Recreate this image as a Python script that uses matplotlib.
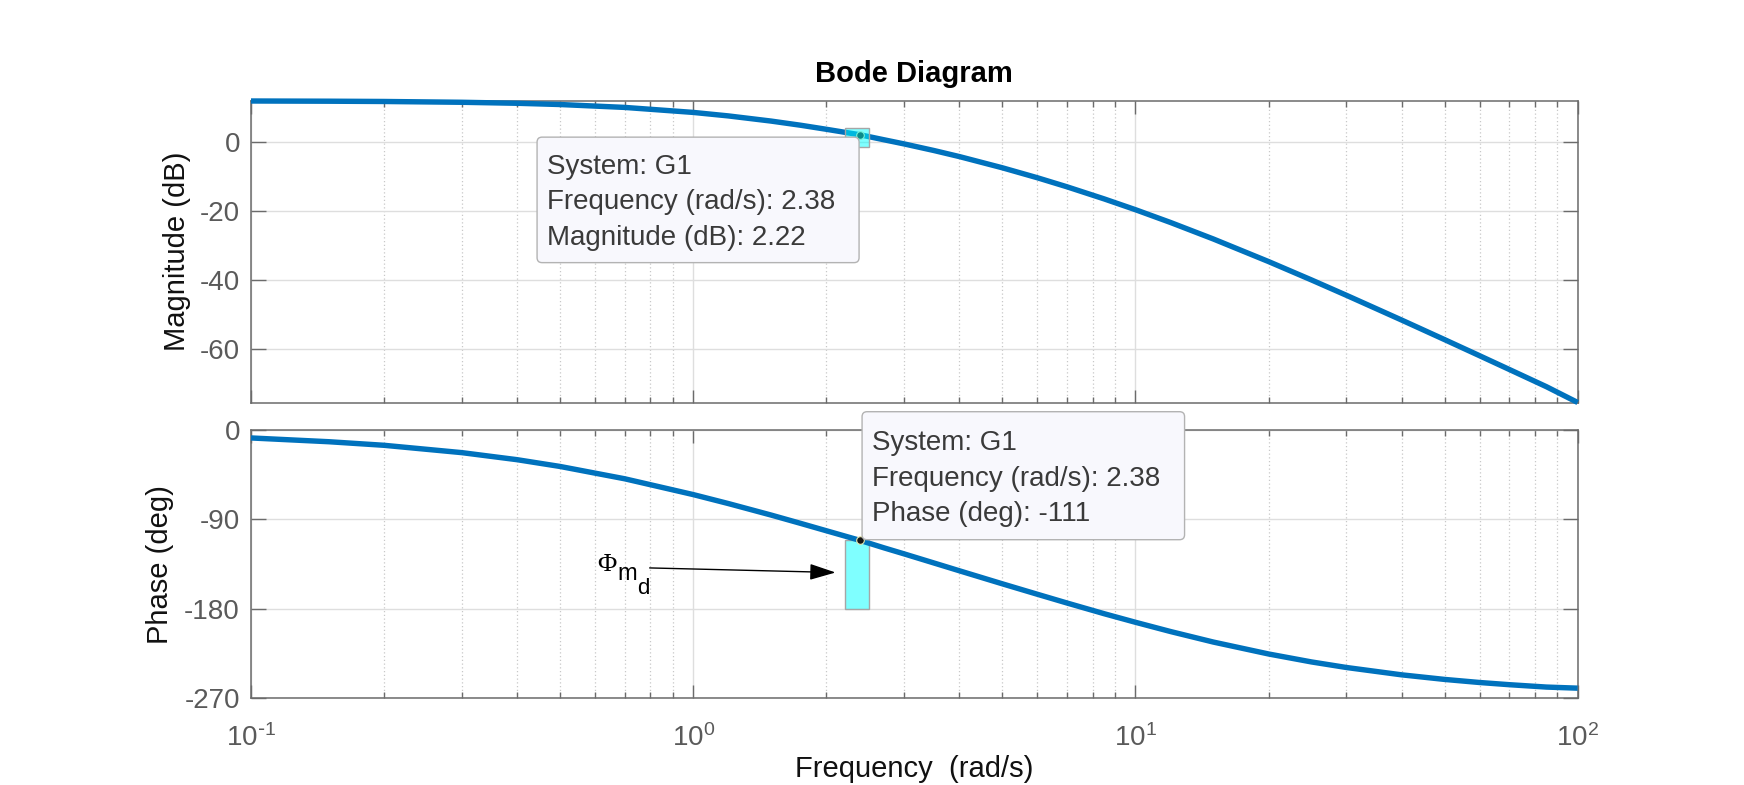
import numpy as np
import matplotlib
matplotlib.use("Agg")
import matplotlib.pyplot as plt
from matplotlib.patches import Rectangle, FancyBboxPatch
from matplotlib.ticker import FixedLocator, LogLocator, NullFormatter, FixedFormatter
from matplotlib.transforms import Affine2D

# ---------------- data ----------------
freq = [0.1, 0.15, 0.2, 0.3, 0.4, 0.5, 0.7, 1.0, 1.2, 1.5, 1.75, 2.0, 2.38, 2.7,
        3.0, 3.5, 4.0, 5.0, 6.0, 7.0, 8.5, 10, 12, 15, 20, 25, 30, 40, 50, 60,
        70, 85, 100]
mag_db = [12.0, 11.94, 11.86, 11.63, 11.34, 10.98, 10.14, 8.69, 7.68, 6.18, 4.97,
          3.80, 2.22, 0.76, -0.45, -2.35, -4.12, -7.36, -10.25, -12.87, -16.39,
          -19.51, -23.21, -28.0, -34.55, -39.87, -44.33, -51.51, -57.17, -61.84,
          -65.81, -70.83, -75.4]
phase_deg = [-8.0, -11.8, -15.4, -22.8, -29.9, -36.7, -49.1, -65.0, -74.0, -85.6,
             -94.0, -101.4, -111.0, -118.6, -124.7, -133.8, -141.7, -154.8, -165.3,
             -174.1, -184.9, -193.5, -202.8, -213.4, -225.4, -233.4, -239.0, -246.4,
             -251.0, -254.1, -256.3, -258.7, -259.8]

cursor_freq = 2.38
cursor_mag = 2.22
cursor_phase = -111
pm_bottom = -180
patch_freq = [2.2, 2.5]
mag_patch = [-1.45, 4.06]

mag_ticks = [0, -20, -40, -60]
phase_ticks = [0, -90, -180, -270]
x_ticks = [0.1, 1, 10, 100]
x_ticklabels = [r"$\mathregular{10^{\text{-}1}}$", r"$\mathregular{10^{0}}$",
                r"$\mathregular{10^{1}}$", r"$\mathregular{10^{2}}$"]

mag_tip = ["System: G1", "Frequency (rad/s): 2.38", "Magnitude (dB): 2.22"]
phase_tip = ["System: G1", "Frequency (rad/s): 2.38", "Phase (deg): -111"]

# ---------------- style ----------------
plt.rcParams["font.family"] = ["Liberation Sans", "DejaVu Sans"]
plt.rcParams["axes.unicode_minus"] = False

W, H = 1744, 785
fig = plt.figure(figsize=(W / 100, H / 100), dpi=100)
fig.patch.set_facecolor("white")

left, right = 251, 1577.7
ax1 = fig.add_axes([left / W, 1 - 402.5 / H, (right - left) / W, (402.5 - 101) / H])
ax2 = fig.add_axes([left / W, 1 - 698.3 / H, (right - left) / W, (698.3 - 430) / H])

line_c = "#0072BD"
axc = "#6b6b6b"
labc = "#5a5a5a"
FS = 20

for ax in (ax1, ax2):
    ax.set_xscale("log")
    ax.set_xlim(x_ticks[0], x_ticks[-1])
    ax.xaxis.set_major_locator(FixedLocator(x_ticks))
    ax.xaxis.set_minor_locator(LogLocator(base=10, subs=np.arange(2, 10), numticks=50))
    ax.xaxis.set_minor_formatter(NullFormatter())
    for s in ax.spines.values():
        s.set_color(axc)
        s.set_linewidth(1.1)
    ax.tick_params(axis="x", which="major", direction="in", length=9.4, width=1.0,
                   color=axc, top=True, bottom=True, labelsize=FS, labelcolor=labc, pad=19)
    ax.tick_params(axis="x", which="minor", direction="in", length=4.3, width=1.0,
                   color=axc, top=True, bottom=True)
    ax.tick_params(axis="y", which="major", direction="in", length=10.5, width=1.0,
                   color=axc, left=True, right=True, labelsize=FS, labelcolor=labc, pad=8)
    ax.tick_params(axis="y", which="minor", left=False, right=False)
    ax.grid(True, which="major", color="#dedede", lw=1.0, ls="-")
    ax.xaxis.grid(True, which="minor", color="#c8c8c8", lw=0.9, ls=(0, (1, 2)))
    ax.set_axisbelow(True)

# magnitude
ax1.plot(freq, mag_db, color=line_c, lw=3.9, clip_on=False, zorder=3,
         solid_capstyle="butt")
ax1.set_ylim(min(mag_db), max(mag_db))
ax1.set_yticks(mag_ticks)
ax1.tick_params(axis="x", labelbottom=False)
ax1.set_ylabel("Magnitude (dB)", fontsize=21, color="#111111")
ax1.yaxis.label.set_va("center")
ax1.yaxis.set_label_coords((177 - left) / (right - left), 0.5)

# phase
ax2.plot(freq, phase_deg, color=line_c, lw=3.9, clip_on=False, zorder=3,
         solid_capstyle="butt")
ax2.set_ylim(phase_ticks[-1], phase_ticks[0])
ax2.set_yticks(phase_ticks)
ax2.xaxis.set_major_formatter(FixedFormatter(x_ticklabels))
ax2.set_ylabel("Phase (deg)", fontsize=21, color="#111111")
ax2.yaxis.label.set_va("center")
ax2.yaxis.set_label_coords((160 - left) / (right - left), 0.5)
ax2.set_xlabel("Frequency  (rad/s)", fontsize=21, color="#111111")
ax2.xaxis.label.set_va("center")
ax2.xaxis.set_label_coords(0.5, (698.3 - 769) / (698.3 - 430))

fig.text((left + right) / 2 / W, 1 - 81.7 / H, "Bode Diagram", ha="center",
         va="baseline", fontsize=21, fontweight="bold", color="black")

# cursor markers and patches
ax1.plot([cursor_freq], [cursor_mag], "o", ms=5.5, mfc="#151515", mec="#e8e8b0",
         mew=0.8, zorder=4, clip_on=False)
ax1.add_patch(Rectangle((patch_freq[0], mag_patch[0]), patch_freq[1] - patch_freq[0],
                        mag_patch[1] - mag_patch[0], facecolor=(0, 1, 1, 0.5),
                        edgecolor="#a6a6a6", lw=1.0, zorder=5))

ax2.add_patch(Rectangle((patch_freq[0], pm_bottom), patch_freq[1] - patch_freq[0],
                        cursor_phase - pm_bottom, facecolor=(0, 1, 1, 0.5),
                        edgecolor="#a6a6a6", lw=1.0, zorder=2))
ax2.plot([cursor_freq], [cursor_phase], "o", ms=5.5, mfc="#151515", mec="#e8e8b0",
         mew=0.8, zorder=6, clip_on=False)

# data tips (drawn in pixel space, anchored to the cursor points)
def datatip(ax, x, y, box, text_left, baselines, lines):
    ax_px = ax.transData.transform((x, y))
    tr = Affine2D().translate(*ax_px)
    x0, y0, w, h = box
    p = FancyBboxPatch((x0, y0), w, h, boxstyle="round,pad=0,rounding_size=5",
                       facecolor="#f8f8fd", edgecolor="#b3b3b3", lw=1.0,
                       transform=tr, zorder=10)
    fig.add_artist(p)
    for b, s in zip(baselines, lines):
        fig.text(text_left, b, s, transform=tr, ha="left", va="baseline",
                 fontsize=FS, color="#3a3a3a", zorder=11)

datatip(ax1, cursor_freq, cursor_mag, (-322.7, -127.9, 322.0, 125.5), -312.7,
        [-39.0, -74.5, -110.0], mag_tip)
datatip(ax2, cursor_freq, cursor_phase, (2.3, 0.6, 322.5, 128.0), 12.3,
        [90.5, 54.5, 19.0], phase_tip)

# phase-margin arrow and label
tail = (0.797, -138.8)
tip = (2.098, -143.4)
ax2.annotate("", xy=tip, xytext=tail,
             arrowprops=dict(arrowstyle="-|>,head_length=0.8,head_width=0.25",
                             mutation_scale=20, color="black", lw=1.0,
                             shrinkA=0, shrinkB=0), zorder=7)
ax2.annotate("\u03a6", xy=tail, xytext=(-52.6, -2.7), textcoords="offset pixels",
             ha="left", va="baseline", fontsize=19,
             family=["Liberation Serif", "DejaVu Serif"], color="black")
ax2.annotate("m", xy=tail, xytext=(-32.7, -12.3), textcoords="offset pixels",
             ha="left", va="baseline", fontsize=17, color="black")
ax2.annotate("d", xy=tail, xytext=(-12.6, -25.6), textcoords="offset pixels",
             ha="left", va="baseline", fontsize=16, color="black")

fig.savefig("out.png", dpi=100, facecolor="white")
